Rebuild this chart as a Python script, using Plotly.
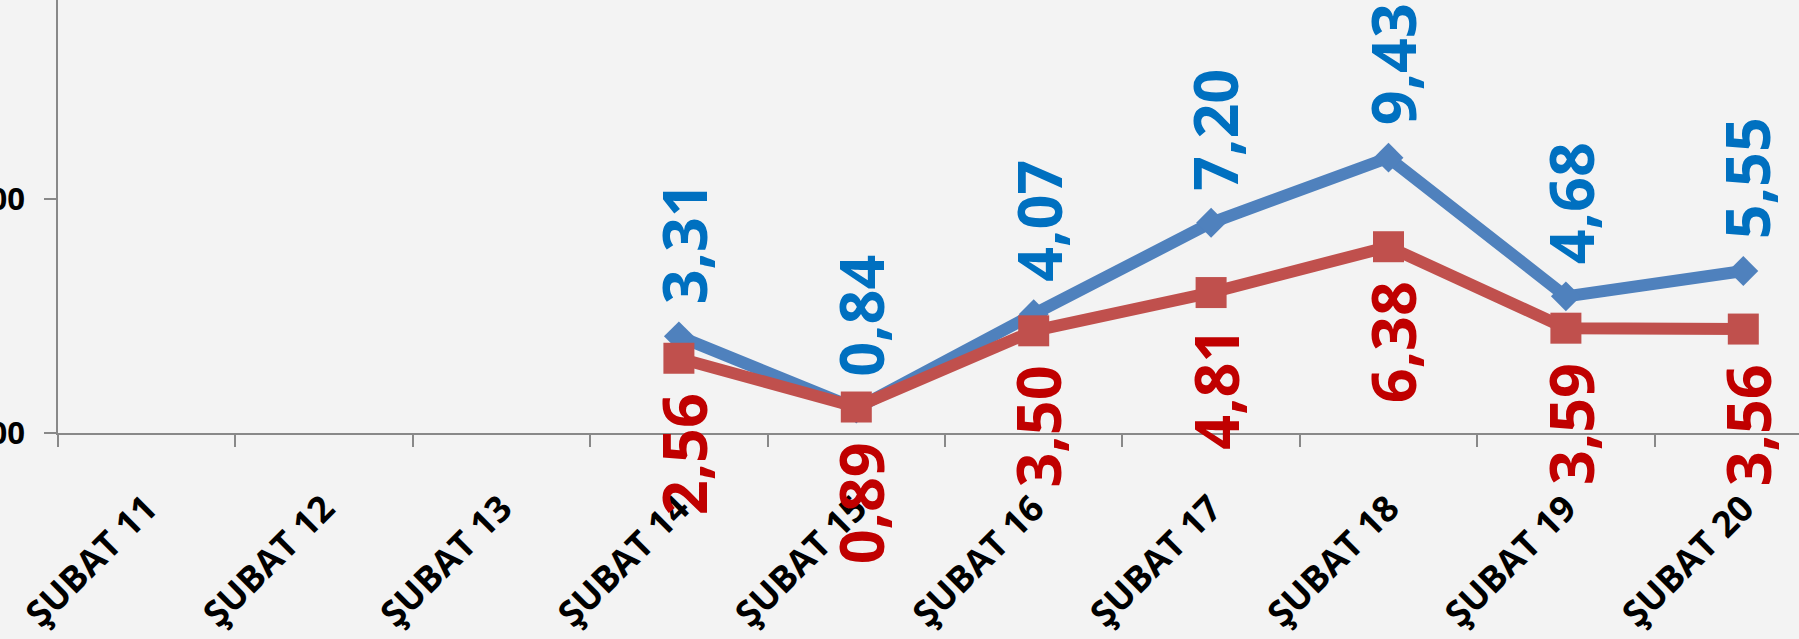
import plotly.graph_objects as go

categories = ["ŞUBAT 11", "ŞUBAT 12", "ŞUBAT 13", "ŞUBAT 14", "ŞUBAT 15",
              "ŞUBAT 16", "ŞUBAT 17", "ŞUBAT 18", "ŞUBAT 19", "ŞUBAT 20"]
series_blue = [None, None, None, 3.31, 0.84, 4.07, 7.20, 9.43, 4.68, 5.55]
series_red = [None, None, None, 2.56, 0.89, 3.50, 4.81, 6.38, 3.59, 3.56]
y_tick_values = [0, 8]

BG = "#f3f3f3"
AXIS = "#888888"
FONT = "Open Sans"

fig = go.Figure()
fig.add_trace(go.Scatter(
    x=categories, y=series_blue, mode="lines+markers",
    line=dict(color="#4F81BD", width=12),
    marker=dict(symbol="diamond", size=23, color="#4F81BD"),
    cliponaxis=False,
))
fig.add_trace(go.Scatter(
    x=categories, y=series_red, mode="lines+markers",
    line=dict(color="#C0504D", width=12),
    marker=dict(symbol="square", size=31, color="#C0504D"),
    cliponaxis=False,
))

annotations = []
for c, v in zip(categories, series_blue):
    if v is None:
        continue
    annotations.append(dict(
        x=c, y=v, xref="x", yref="y", text=f"{v:.2f}".replace(".", ","),
        textangle=-90, showarrow=False, xanchor="center", yanchor="bottom",
        yshift=30, xshift=4,
        font=dict(family=FONT, size=61, color="#0070C0", weight="bold"),
    ))
for c, v in zip(categories, series_red):
    if v is None:
        continue
    annotations.append(dict(
        x=c, y=v, xref="x", yref="y", text=f"{v:.2f}".replace(".", ","),
        textangle=-90, showarrow=False, xanchor="center", yanchor="top",
        yshift=-33, xshift=4,
        font=dict(family=FONT, size=61, color="#C00000", weight="bold"),
    ))

fig.update_layout(
    width=1799, height=639,
    margin=dict(l=58, r=0, t=0, b=206, pad=0),
    paper_bgcolor=BG, plot_bgcolor=BG,
    showlegend=False,
    separators=",.",
    annotations=annotations,
    xaxis=dict(
        type="category", range=[-0.5, 9.314], automargin=False,
        tickson="boundaries", ticks="outside", ticklen=12, tickwidth=1.5,
        tickcolor=AXIS, showline=True, linecolor=AXIS, linewidth=1.5,
        showgrid=False, zeroline=False, tickangle=-45,
        ticklabelstandoff=38,
        tickfont=dict(family=FONT, size=36, color="black", weight="bold"),
    ),
    yaxis=dict(
        range=[0, 14.83], automargin=False,
        tickmode="array", tickvals=y_tick_values, tickformat=".2f",
        ticks="outside", ticklen=12, tickwidth=1.5, tickcolor=AXIS,
        showline=True, linecolor=AXIS, linewidth=1.5,
        showgrid=False, zeroline=False,
        ticklabelstandoff=13,
        tickfont=dict(family=FONT, size=31, color="black", weight="bold"),
    ),
)

fig.write_html("out.html", config={"displayModeBar": False},
               post_script="document.body.style.margin='0';")
